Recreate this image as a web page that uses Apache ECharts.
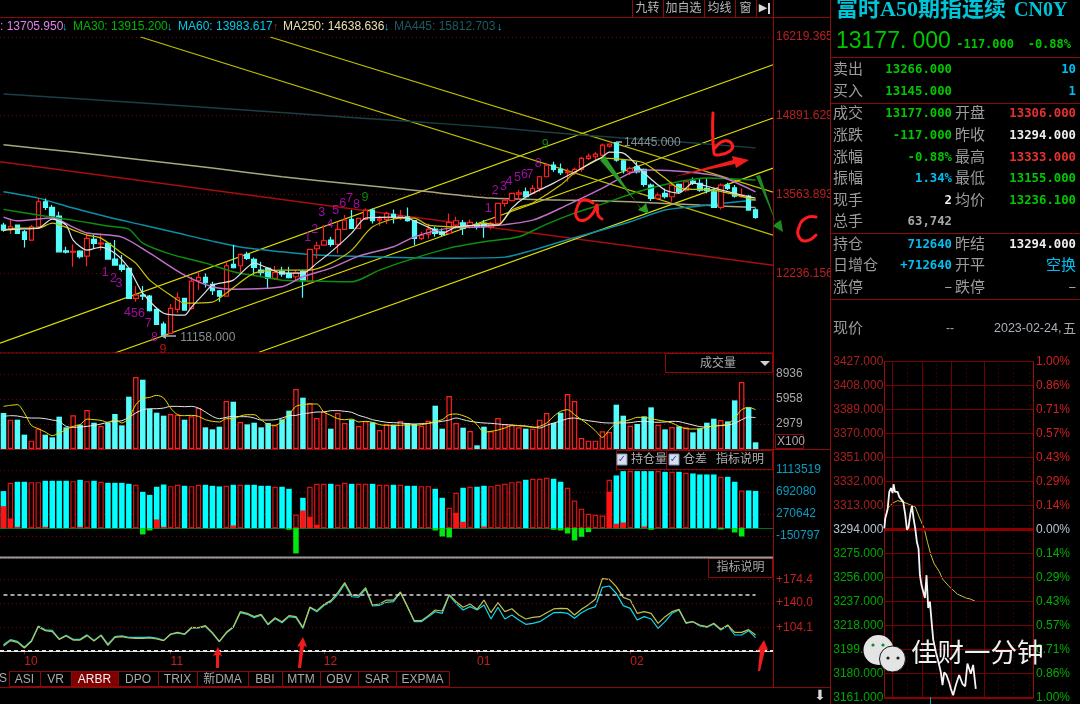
<!DOCTYPE html>
<html><head><meta charset="utf-8">
<style>html,body{margin:0;padding:0;background:#000}#c{width:1080px;height:704px}</style>
<script src="https://cdn.jsdelivr.net/npm/echarts@6/dist/echarts.min.js"></script>
</head><body><div id="c"></div>
<script>
const opens=[13048,12974,13048,12935,12795,13020,13442,13346,13200,12615,
12593,12609,12525,12806,12733,12739,12475,12374,12318,11812,
11868,11851,11626,11379,11222,11626,11812,11643,12110,12166,
12048,11941,11851,12385,12363,12554,12469,12290,12318,12149,
12262,12233,12177,12262,12093,12649,12711,12795,12722,12975,
13144,12992,13144,13301,13133,13144,13228,13177,13189,13122,
12823,12896,12981,12936,12908,13048,13088,13009,13060,13076,
13009,13076,13413,13459,13571,13610,13582,13666,13863,14060,
13987,13931,13931,13987,14172,14200,14229,14380,14437,14133,
13947,14032,13987,13722,13497,13582,13526,13734,13638,13790,
13751,13666,13610,13346,13722,13677,13526,13537,13306];
const closes=[12964,13020,12907,12806,13020,13442,13346,13200,12598,12593,
12604,12514,12823,12739,12744,12475,12374,12301,11812,11868,
11851,11604,11373,11194,11643,11823,11615,12104,12166,12076,
11941,11851,12363,12329,12554,12486,12335,12245,12149,12250,
12222,12160,12245,12110,12638,12700,12784,12722,12975,13133,
12992,13161,13301,13122,13155,13245,13177,13206,13122,12823,
12879,12981,12908,12891,13093,13121,12992,13093,13020,13020,
13076,13413,13470,13582,13593,13526,13666,13863,14060,13987,
13931,13947,13987,14172,14212,14245,14397,14414,14144,13975,
14004,13947,13734,13497,13554,13526,13722,13610,13779,13751,
13638,13627,13346,13722,13666,13537,13554,13301,13177];
const lows=[12935,12896,12896,12671,12784,12992,13301,13189,12587,12570,
12345,12486,12356,12654,12626,12464,12363,12261,11801,11756,
11784,11593,11362,11158,11211,11570,11604,11626,11953,11997,
11868,11756,11840,12318,12245,12458,12205,12194,11981,12121,
12177,12149,12110,11823,12082,12486,12706,12683,12571,12964,
12981,12981,13133,13077,13031,13065,13077,13133,13105,12711,
12795,12823,12852,12863,12897,12992,12880,12992,12975,12835,
12975,13065,13357,13448,13470,13498,13571,13610,13852,13947,
13891,13779,13891,13947,14144,14144,14172,14358,14116,13919,
13891,13919,13694,13453,13469,13497,13441,13571,13610,13722,
13610,13582,13335,13312,13638,13515,13515,13290,13155];
const highs=[13087,13144,13059,12964,13048,13509,13498,13385,13273,12682,
12727,12626,12908,12891,12908,12750,12795,12542,12329,12020,
12020,11868,11643,11418,11716,11913,11823,12177,12262,12233,
12093,11952,12430,12711,12571,12599,12503,12430,12329,12357,
12346,12346,12290,12290,12649,12767,13048,12852,13105,13217,
13301,13172,13329,13329,13200,13273,13312,13301,13346,13133,
12936,13076,13020,12992,13245,13189,13133,13144,13105,13133,
13105,13425,13498,13594,13638,13683,13722,13874,14088,14116,
14088,14004,14021,14200,14257,14285,14425,14420,14445,14144,
14032,14116,14004,13751,13593,13666,13779,13751,13807,13852,
13835,13835,13666,13751,13762,13722,13666,13554,13333];
const volumes=[4288,3494,3494,1707,993,2422,1707,1390,3851,2580,
4010,2898,4645,3136,2739,3097,4169,2819,6233,8575,
8258,4764,4327,3970,4169,4089,3494,3891,4883,2581,
2342,2660,5717,5637,3216,2938,3136,2581,3097,2819,
3533,4566,7146,6114,5479,3692,4486,2422,4288,3097,
3494,2739,3295,3176,2263,2978,2898,3335,3097,2978,
2779,3374,5161,2422,6312,3097,2541,2144,437,2660,
2104,3692,2978,2898,2581,2422,2422,3494,4288,3097,
4327,6550,5717,1310,993,993,2104,2025,5280,3970,
2779,2978,3891,4963,2898,2342,2620,2700,2581,1985,
2422,3136,3613,3454,3295,5796,7980,4963,794];
const volMa10=[3890,3970,3930,3770,3690,3690,3610,3450,3300,2700,
2580,2620,2700,2820,2980,3180,3300,3370,3770,4290,
4680,4800,4800,4880,5080,5080,5040,5080,4880,4410,
3890,3610,3770,3890,3850,3850,3690,3450,3450,3490,
3690,3970,4010,4210,4290,4410,4410,4570,4570,4490,
4370,4010,3770,3490,3330,3180,3140,3100,3020,2980,
3020,3060,3180,3300,3450,3690,3490,3300,3180,3100,
3060,2980,2900,2860,2780,2740,2620,2500,2820,3100,
3330,3610,3690,3530,3370,3260,3140,3100,3100,3100,
3140,3260,3300,3220,3180,3220,3300,3260,3060,2860,
2660,2620,2740,2780,2860,3060,3490,3810,3730];
const volMa5=[5080,5200,5280,4290,2820,2420,2020,1590,1910,2300,
2700,2900,3570,3490,3410,3180,3490,3100,3690,5280,
5990,6150,6390,6070,4880,4090,3970,4010,3890,3490,
3300,3220,3610,3610,3930,4090,4090,3490,2900,2820,
3300,4090,5080,5280,5360,5360,4410,4010,3610,3490,
3570,3220,3300,3180,2900,2820,2820,2820,2900,2820,
2900,3060,3300,3490,4090,4170,3970,3610,2900,2020,
2100,2260,2500,2780,2780,2700,2580,2700,3100,3890,
4490,4680,4090,3490,2900,2180,1390,2300,3100,3300,
3490,3770,3770,3610,3450,3300,3100,2700,2420,2380,
2420,2580,2740,2820,2980,3690,4680,4960,4680];
const openInterest=[709000,868000,888000,888000,881000,881000,907000,907000,907000,907000,
900000,926000,900000,907000,888000,868000,868000,868000,849000,830000,
696000,638000,792000,836000,804000,830000,811000,804000,830000,830000,
811000,798000,811000,830000,830000,830000,830000,811000,811000,792000,
792000,753000,262000,581000,792000,849000,849000,849000,830000,868000,
849000,849000,849000,849000,830000,830000,830000,830000,811000,811000,
804000,804000,753000,581000,389000,677000,773000,792000,792000,811000,
804000,830000,849000,881000,894000,926000,945000,945000,964000,945000,
888000,773000,530000,370000,275000,255000,243000,926000,1009000,1092000,
1092000,1092000,1092000,1092000,1092000,1079000,1079000,1079000,1060000,1047000,
1028000,1028000,1028000,983000,983000,888000,722000,722000,712640];
const positionDiff=[421000,185000,25000,0,0,0,26000,0,0,0,
0,26000,0,0,0,0,0,0,0,0,
-121000,-45000,166000,26000,0,0,0,0,0,0,
0,0,0,51000,0,0,0,0,0,0,
0,-32000,-485000,338000,217000,64000,0,0,0,0,
0,0,0,0,0,0,0,0,0,0,
0,0,-45000,-160000,-179000,294000,121000,0,0,32000,
0,0,0,0,0,0,0,0,0,-32000,
-45000,-102000,-236000,-166000,-77000,0,0,696000,83000,108000,
0,0,32000,-32000,0,0,0,0,0,0,
0,0,0,-26000,0,-83000,-160000,0,0];
const arbrYellow=[77.3,85.1,82.7,74.4,83.6,105.4,99.6,98.2,87.0,91.9,
86.0,86.0,92.4,84.6,92.4,78.3,89.9,90.9,89.0,88.5,
88.5,89.0,87.5,85.1,94.8,97.2,94.8,104.5,104.0,106.9,
96.7,84.1,97.2,105.4,127.3,124.9,120.0,123.4,109.3,118.5,
112.7,121.5,120.0,104.5,134.1,128.7,137.9,143.3,154.9,169.5,
151.5,151.0,162.2,137.0,138.4,144.2,144.2,155.9,134.6,114.2,
114.2,121.5,129.7,128.2,152.0,141.8,133.6,138.4,130.7,144.2,
125.8,140.4,127.3,131.6,122.4,116.6,119.0,120.0,125.8,131.2,
132.1,131.6,122.4,130.7,137.5,145.2,175.3,174.3,163.6,148.1,
144.2,124.9,127.3,124.9,110.3,120.0,127.3,130.7,111.3,112.7,
107.9,105.4,110.3,101.6,107.9,97.2,97.2,101.1,93.3];
const arbrCyan=[79,86.5,84,75.5,85,106.4,100.8,100,87.5,93,
87,87,93.5,85.5,93.5,80,91,92,90,90,
90,90.2,88.7,85.5,94,96.5,94,103.5,103.5,105.5,
95.8,83.5,96,104.2,125.8,123.4,118.5,122,108,117,
111.2,120,118.5,103,133,127,136.2,141.5,152,167.5,
149,148.5,160,135.5,136.5,140.9,141.8,154.9,134.6,112.7,
112.7,120,127.3,124.9,151,139.4,129.7,134.6,129.7,137,
116.6,133.6,116.6,122.4,115.2,108.8,110.3,112.7,119,125.8,
126.3,124.9,117.6,125.8,131.2,134.6,162.7,164.6,153.9,136,
132.1,115.2,120,116.6,103,112.7,124.9,129.7,110.3,112.7,
106.4,104.5,109.3,100.6,106.9,93.3,93.3,99.6,89.4];
// moving averages read at bar indices
const ma5Idx=[0,2,5,7,9,10,12,14,16,18,20,23,26,27,29,30,33,36,38,40,43,45,47,50,52,56,58,61,63,65,69,71,73,75,79,82,86,87,89,92,95,97,99,102,106,108];
const ma5Val=[12964,12980,12997,13149,13048,12795,12626,12677,12575,12322,11901,11563,11530,11665,11918,12036,12120,12407,12322,12238,12238,12407,12592,12913,13166,13183,13166,13014,12913,13014,13048,13048,13335,13520,13756,13942,14195,14279,14262,13925,13638,13588,13756,13672,13554,13503];
const ma10Idx=[0,2,5,7,10,12,14,17,19,21,24,26,30,32,36,40,44,47,50,53,57,59,61,66,69,71,73,75,76,80,82,86,90,92,95,97,102,108];
const ma10Val=[12964,12997,12997,13081,12964,12879,12828,12575,12407,12120,11867,11732,11749,11901,12238,12289,12289,12407,12626,13019,13166,13166,13048,13019,13081,13048,13301,13385,13419,13723,13925,14178,14144,14094,13841,13672,13638,13470];
const ma20Idx=[0,2,7,10,12,17,21,26,30,33,40,43,47,51,56,59,64,69,76,81,86,90,93,98,103,108];
const ma20Val=[13183,13120,13166,13014,12913,12845,12575,12204,12007,11968,12007,12176,12322,12525,12682,12850,12997,13019,13132,13390,13672,13925,13976,13947,13863,13609];
const ma30Idx=[0,5,10,15,18,20,24,29,33,37,40,46,50,54,59,64,69,74,78,82,86,91,96,101,105,108];
const ma30Val=[13313,13217,13132,13031,12980,12744,12559,12407,12260,12176,12120,12103,12091,12289,12491,12660,12766,12850,13065,13250,13402,13605,13756,13841,13824,13807];
const ma60Idx=[0,5,10,15,20,25,30,35,40,45,55,65,72,76,80,85,90,95,100,104,108];
const ma60Val=[13609,13503,13335,13183,13048,12913,12778,12660,12597,12542,12508,12491,12508,12626,12766,12935,13104,13301,13369,13424,13470];
const ma250Idx=[0,10,20,30,40,50,60,70,80,90,100,108];
const ma250Val=[14402,14279,14144,14009,13863,13740,13621,13503,13470,13441,13385,13346];
const ma445Idx=[0,21,43,57,71,83,95,108];
const ma445Val=[15257,15100,14920,14808,14690,14566,14470,14350];
// trend lines: [bar index, price] at each end
const redLine=[[-0.5,14117],[110.5,12373]];
const upLine1=[[-0.5,11057],[110.5,15752]];
const upLine2=[[15.9,10888],[110.5,14853]];
const upLine3=[[36.7,10905],[110.5,14009]];
const downLine1=[[19.7,16219],[110.5,12879]];
const downLine2=[[38.3,16219],[110.5,13605]];
// TD sequence labels
const tdIdx=[14.6,15.8,16.6,17.8,18.8,19.8,20.8,21.7,22.9,43.7,44.7,45.7,46.9,47.7,48.7,49.7,50.7,51.9,69.6,70.6,71.8,72.6,73.8,74.8,75.6,76.8,77.8];
const tdPrice=[12255,12154,12069,11580,11563,11563,11395,11158,10956,12845,12980,13267,13065,13301,13419,13503,13402,13520,13335,13638,13706,13790,13858,13908,13908,14094,14414];
const tdText=['1','2','3','4','5','6','7','8','9','1','2','3','4','5','6','7','8','9','1','2','3','4','5','6','7','8','9'];
// axis labels
const mainTicks=['','12236.156','13563.893','14891.629','16219.365'];
const volTicks=['','2979','5958','8936'];
const oiTicks=['','-150797','270642','692080','1113519'];
const arbrTickVals=[104.1,140.0,174.4];
const arbrGuards=[70,151.5];
const monthAt=[3,24,46,68,90];
const monthLabels=['10','11','12','01','02'];
// intraday
const minTime=[0,1,3.3,5,6.7,8.3,9.3,10.7,13.3,15,16.7,19,21,22.7,24.3,26,27.7,29.3,31,32.7,34.3,35.7,37.3,39,40.7,42.3,44,45.7,47.3,49,51.7,54.3,56.7,58.3,60,62.3,65,66.7,69,71.7,75,78.3,81,83.3,86.7,89,91.7];
const minPrice=[3295,3303,3310,3324,3327,3323,3330,3324,3324,3320,3321,3316,3306,3294,3296,3306,3313,3303,3295,3284,3279,3258,3250,3249,3240,3258,3232,3237,3222,3207,3197,3189,3181,3171,3181,3179,3173,3168,3163,3171,3179,3172,3170,3188,3180,3187,3168];
const avgTime=[0,3.3,8.3,13.3,19,25,31,35,40,43.3,46.7,50,55,58.3,65,73.3,81.7,86.7,91.7];
const avgPrice=[3300,3311,3315,3317,3316,3314,3312,3304,3295,3284,3274,3267,3261,3255,3249,3243,3240,3239,3237];
const minLevels=[3161,3180,3199,3218,3237,3256,3275,3294,3313,3332,3351,3370,3389,3408,3427];
const minLeftTicks=['3161.000','3180.000','3199.000','3218.000','3237.000','3256.000','3275.000','3294.000','3313.000','3332.000','3351.000','3370.000','3389.000','3408.000','3427.000'];
const minRightTicks=['1.00%','0.86%','0.71%','0.57%','0.43%','0.29%','0.14%','0.00%','0.14%','0.29%','0.43%','0.57%','0.71%','0.86%','1.00%'];
const minSolidV=[8.3,37.7,67.3,99.7];
const minDotV=[22.7,52.3,81.7,114.3,129,145];

const categories=Array.from({length:111},(_,i)=>String(i));
const RED='#ff2020',CY='#54FCFC',GRID='#7a0000',LINE='#8a0a0a';
const F='Arial,"Liberation Sans","Noto Sans CJK SC",sans-serif';
const isUp=i=>closes[i]>=opens[i];
const pairs=(a,b)=>a.map((v,i)=>[v,b[i]]);
const dot={lineStyle:{color:GRID,type:[1,3],width:1}};
const yLine=c=>({show:true,onZero:false,lineStyle:{color:c}});

function hide(grid){return {type:'category',gridIndex:grid,data:categories,show:false,boundaryGap:true};}
const L=-2.8,W=775.8;
const grids=[
 {left:L,top:37,width:W,height:315},
 {left:L,top:374,width:W,height:75},
 {left:L,top:470,width:W,height:88},
 {left:L,top:557,width:W,height:94.3},
 {left:884.3,top:361.7,width:148.7,height:336}
];
const xAxes=[
 hide(0),
 {type:'value',gridIndex:0,min:-0.5,max:110.5,show:false},
 {type:'category',gridIndex:1,data:categories,axisLine:{show:true,lineStyle:{color:'#b01010'}},axisTick:{show:false},axisLabel:{show:false}},
 {type:'category',gridIndex:2,data:categories,axisLine:{show:true,onZero:true,lineStyle:{color:'#0a6a1a'}},axisTick:{show:false},axisLabel:{show:false}},
 {type:'category',gridIndex:3,data:categories,axisLine:{show:true,lineStyle:{color:'#c8c8c8',width:1}},
  axisTick:{show:true,alignWithLabel:true,length:3,interval:i=>monthAt.includes(i),lineStyle:{color:'#a01010'}},
  axisLabel:{show:true,interval:i=>monthAt.includes(i),formatter:(v,i)=>monthLabels[monthAt.indexOf(+v)]||'',color:'#c02020',fontSize:12,fontFamily:F,align:'left',margin:4}},
 {type:'value',gridIndex:4,min:0,max:149,show:false}
];
const yAxes=[
 {type:'value',gridIndex:0,position:'right',min:10908.41,max:16219.365,interval:1327.739,axisLine:yLine('#900c0c'),axisTick:{show:false},splitLine:{show:true,...dot},
  axisLabel:{margin:3,color:'#b82020',fontSize:12,fontFamily:F,formatter:(v,i)=>mainTicks[i]||''}},
 {type:'value',gridIndex:1,position:'right',min:0,max:8936,interval:2978.667,axisLine:yLine('#900c0c'),axisTick:{show:false},splitLine:{show:true,...dot},
  axisLabel:{margin:3,color:'#a8a8a8',fontSize:12,fontFamily:F,formatter:(v,i)=>volTicks[i]||''}},
 {type:'value',gridIndex:2,position:'right',min:-572236,max:1113519,interval:421438.75,axisLine:yLine('#900c0c'),axisTick:{show:false},splitLine:{show:true,...dot},
  axisLabel:{margin:3,color:'#0a9cc0',fontSize:12,fontFamily:F,formatter:(v,i)=>oiTicks[i]||''}},
 {type:'value',gridIndex:3,position:'right',min:69.6,max:206.8,axisLine:yLine('#c8c8c8'),axisTick:{show:false},splitLine:{show:false},
  axisLabel:{margin:3,color:'#c02020',fontSize:12,fontFamily:F,customValues:arbrTickVals,formatter:v=>'+'+Number(v).toFixed(1)}},
 {type:'value',gridIndex:4,position:'left',min:3161,max:3427,interval:19,axisLine:yLine('#a00c0c'),axisTick:{show:false},splitLine:{show:false},
  axisLabel:{margin:1,fontSize:12,fontFamily:F,formatter:(v,i)=>minLeftTicks[i],color:v=>Math.abs(v-3294)<1?'#b8c4d0':(v>3294?'#a82020':'#00a800')}},
 {type:'value',gridIndex:4,position:'right',min:3161,max:3427,interval:19,axisLine:yLine('#a00c0c'),axisTick:{show:false},splitLine:{show:false},
  axisLabel:{margin:3,fontSize:12,fontFamily:F,formatter:(v,i)=>minRightTicks[i],color:v=>Math.abs(v-3294)<1?'#b8c4d0':(v>3294?'#d02020':'#00b000')}}
];
const ln=(name,data,color,w,z)=>({type:'line',name,xAxisIndex:1,yAxisIndex:0,data,showSymbol:false,symbol:'none',silent:true,z:z||4,clip:true,lineStyle:{color,width:w||1},animation:false});
const maLn=(name,idx,val,color,w,z)=>Object.assign(ln(name,pairs(idx,val),color,w,z),{smooth:0.25});
const volItems=volumes.map((v,i)=>({value:v,itemStyle:isUp(i)?{color:'#0a0000',borderColor:RED,borderWidth:1.2}:{color:CY,borderWidth:0}}));
const oiItems=openInterest.map((v,i)=>({value:v,itemStyle:isUp(i)?{color:'#0a0000',borderColor:'#d81414',borderWidth:1.2}:{color:'#00FFFF',borderWidth:0}}));
const diffItems=positionDiff.map(v=>({value:v===0?null:v,itemStyle:{color:v<0?'#00e810':'#ff1414'}}));
const tdData=tdIdx.map((k,i)=>{const c=i===8?'#e01818':(i===17||i===26)?'#10a810':'#c810c8';return {value:[k,tdPrice[i]],label:{show:true,formatter:tdText[i],color:c,fontSize:12.5,fontFamily:F,position:'inside'}};});
const series=[
 {type:'candlestick',name:'K',xAxisIndex:0,yAxisIndex:0,barWidth:5,z:3,animation:false,silent:true,
  data:opens.map((o,i)=>[o,closes[i],lows[i],highs[i]]),
  itemStyle:{color:'#000',color0:CY,borderColor:'#ff2020',borderColor0:CY,borderWidth:1.2}},
 ln('redLine',redLine,'#a80c0c',1.5,2),
 ln('up1',upLine1,'#dede00',1.2,2),ln('up2',upLine2,'#dede00',1.2,2),ln('up3',upLine3,'#dede00',1.2,2),
 ln('down1',downLine1,'#bebe00',1.2,2),ln('down2',downLine2,'#bebe00',1.2,2),
 maLn('MA445',ma445Idx,ma445Val,'#1a3e44',1.5,2),
 maLn('MA250',ma250Idx,ma250Val,'#a8a67c',1.5,2),
 maLn('MA60',ma60Idx,ma60Val,'#0a8fa8',1.5,2),
 maLn('MA30',ma30Idx,ma30Val,'#0a900a',1.5,4),
 maLn('MA20',ma20Idx,ma20Val,'#c070c8',1.5,4),
 maLn('MA10',ma10Idx,ma10Val,'#c8c400',1.2,4),
 maLn('MA5',ma5Idx,ma5Val,'#e0e0e0',1.2,5),
 {type:'scatter',xAxisIndex:1,yAxisIndex:0,symbolSize:0,data:tdData,z:6,silent:true,animation:false},
 {type:'scatter',xAxisIndex:1,yAxisIndex:0,symbolSize:0,z:6,silent:true,animation:false,
  data:[{value:[89.1,14445],label:{show:true,position:'right',distance:0,formatter:'14445.000',color:'#a8b0b8',fontSize:12,fontFamily:F}},
        {value:[25.4,11158],label:{show:true,position:'right',distance:0,formatter:'11158.000',color:'#a8b0b8',fontSize:12,fontFamily:F}}]},
 {type:'bar',xAxisIndex:2,yAxisIndex:1,data:volItems,barWidth:5.5,z:2,animation:false,silent:true},
 {type:'line',xAxisIndex:2,yAxisIndex:1,data:volMa10,symbol:'none',smooth:0.3,lineStyle:{color:'#e8e8e8',width:1},z:4,animation:false,silent:true},
 {type:'line',xAxisIndex:2,yAxisIndex:1,data:volMa5,symbol:'none',smooth:0.3,lineStyle:{color:'#e8e000',width:1},z:4,animation:false,silent:true},
 {type:'bar',xAxisIndex:3,yAxisIndex:2,data:oiItems,barWidth:5.5,barGap:'-100%',z:2,animation:false,silent:true},
 {type:'bar',xAxisIndex:3,yAxisIndex:2,data:diffItems,barWidth:5.5,barGap:'-100%',z:3,animation:false,silent:true},
 {type:'line',xAxisIndex:4,yAxisIndex:3,data:arbrCyan,symbol:'none',lineStyle:{color:'#10d8e8',width:1.2},z:3,animation:false,silent:true,
  markLine:{silent:true,symbol:'none',animation:false,label:{show:false},precision:4,data:[
   ...arbrTickVals.map(v=>({yAxis:v,lineStyle:{color:GRID,type:[1,3],width:1}})),
   [{coord:['0',arbrGuards[1]],lineStyle:{color:'#d8d8d8',type:[4,3],width:1.5}},{coord:['108',arbrGuards[1]]}],
   {yAxis:arbrGuards[0],lineStyle:{color:'#e8e8e8',type:[4,3],width:2}}
  ]}},
 {type:'line',xAxisIndex:4,yAxisIndex:3,data:arbrYellow,symbol:'none',lineStyle:{color:'#c0c050',width:1.2},z:4,animation:false,silent:true},
 {type:'line',xAxisIndex:5,yAxisIndex:4,data:pairs(avgTime,avgPrice),symbol:'none',lineStyle:{color:'#c8c040',width:1},z:4,animation:false,silent:true},
 {type:'line',xAxisIndex:5,yAxisIndex:4,data:pairs(minTime,minPrice),symbol:'none',lineStyle:{color:'#f4f4f4',width:1.8},z:5,animation:false,silent:true,
  markLine:{silent:true,symbol:'none',animation:false,label:{show:false},data:[
   ...minLevels.map(v=>({yAxis:v,lineStyle:{color:'#720000',type:'solid',width:1}})),
   ...minSolidV.map(v=>({xAxis:v,lineStyle:{color:'#720000',type:'solid',width:1}})),
   ...minDotV.map(v=>({xAxis:v,lineStyle:{color:'#720000',type:[1,3],width:1}})),
   {yAxis:3294,lineStyle:{color:'#8c0000',type:'solid',width:3}},
   {yAxis:3161,lineStyle:{color:'#8c0000',type:'solid',width:2}}
  ]}}
];

// ---- panel furniture and text ----
const G=[];
const T=(x,y,text,fill,size,align,font,weight)=>G.push({type:'text',z:70,silent:true,style:{x,y,text,fill,
  font:(weight?weight+' ':'')+size+'px '+(font||F),textAlign:align||'left',align:align||'left',textVerticalAlign:'middle',verticalAlign:'middle'}});
const HL=(x1,y1,x2,y2,c,w)=>G.push({type:'line',z:65,silent:true,shape:{x1,y1,x2,y2},style:{stroke:c||LINE,lineWidth:w||1}});
const R=(x,y,w,h,fill,stroke,z)=>G.push({type:'rect',z:z||64,silent:true,shape:{x,y,width:w,height:h},style:{fill:fill||'none',stroke:stroke||'none',lineWidth:1}});
const P=(pts,c,w,sm)=>G.push({type:'polyline',z:68,silent:true,shape:{points:pts,smooth:sm===undefined?0.5:sm},style:{stroke:c,lineWidth:w,fill:'none',lineCap:'round',lineJoin:'round'}});
const PG=(pts,c)=>G.push({type:'polygon',z:68,silent:true,shape:{points:pts},style:{fill:c}});

R(830,0,250,353,'#000',null,60);
HL(0,17.5,830,17.5);HL(0,353,773,353);HL(773.5,0,773.5,687,'#900c0c');HL(830.5,0,830.5,704,'#900c0c');
HL(0,687.5,830,687.5);HL(0,557.5,773,557.5,'#9a9a9a',2);HL(0,449.5,830,449.5,'#900c0c');
// toolbar
[632,663,704,735,756].forEach(x=>HL(x+.5,0,x+.5,17));
T(647.5,8.5,'九转','#b8b8b8',12,'center');T(683.5,8.5,'加自选','#b8b8b8',12,'center');T(719.5,8.5,'均线','#b8b8b8',12,'center');T(745.5,8.5,'窗','#b8b8b8',12,'center');
T(763,8.5,'▶','#d8d8d8',11,'center','"DejaVu Sans"');HL(769,3,769,14,'#d8d8d8',2);
// legend
T(0,27,': 13705.950','#e080f0',12);T(62,27,'↓','#00b8e0',11);
T(73,27,'MA30: 13915.200','#00b400',12);T(167,27,'↓','#00b8e0',11);
T(178,27,'MA60: 13983.617','#00c8e8',12);T(273,27,'↑','#e01818',11);
T(283,27,'MA250: 14638.636','#e8e0b0',12);T(384,27,'↓','#00b8e0',11);
T(394,27,'MA445: 15812.703','#1f5a62',12);T(497,27,'↓','#00b8e0',11);
// volume box
R(665.5,353.5,107,19,'#000',LINE);T(718,364,'成交量','#a8a8a8',12,'center');PG([[760,361],[770,361],[765,366]],'#d0d0d0');
R(775.5,434.5,28,14,'none',LINE);T(777,442,'X100','#a8a8a8',12);
// OI box
R(616.5,450.5,156,19,'#000',LINE);HL(666.5,450,666.5,469);
R(617,454,10,11,'#d8e0f0','#8090b0',65);T(622,459.5,'✓','#3050b0',10,'center','"DejaVu Sans"');
T(631,460,'持仓量','#b0b0b0',12);
R(669,454,10,11,'#d8e0f0','#8090b0',65);T(674,459.5,'✓','#3050b0',10,'center','"DejaVu Sans"');
T(683,460,'仓差','#b0b0b0',12);T(716,460,'指标说明','#b0b0b0',12);
// ARBR box
R(708.5,558.5,64,19,'#000',LINE);T(740.5,568,'指标说明','#a8a8a8',12,'center');
// tabs
T(3,679,'S','#a8a8a8',12,'center');
const tabs=[['ASI',9,40],['VR',40,71],['ARBR',71,118],['DPO',118,158],['TRIX',158,197],['新DMA',197,248],['BBI',248,282],['MTM',282,320],['OBV',320,358],['SAR',358,396],['EXPMA',396,449]];
tabs.forEach(([t,a,b])=>{R(a+.5,671.5,b-a,15,t==='ARBR'?'#800000':'#000',LINE);T((a+b)/2,679.5,t,t==='ARBR'?'#f0f0f0':'#a8a8a8',12,'center');});
T(820,696,'⬇','#d8d8d8',14,'center','"DejaVu Sans"');
// right panel
const S='"Liberation Serif","Noto Sans CJK SC",serif';
T(836,10.5,'富时A50期指连续','#00c4d8',22,'left',S,'bold');T(1014,10.5,'CN0Y','#00c4d8',20,'left',S,'bold');
const M='"DejaVu Sans Mono",monospace';
T(836,42,'13177.','#00c800',23);T(912.5,42,'000','#00c800',23);
T(1014,44.5,'-117.000','#00c800',12,'right',M,'bold');T(1071,44.5,'-0.88%','#00c800',12,'right',M,'bold');
[57,103,233,299].forEach(y=>HL(831,y+.5,1080,y+.5));
const LB='#9c9c9c',VS=12.3;
const Lb=(x,y,t)=>T(x,y,t,LB,15,'left');
const Vv=(x,y,t,c)=>T(x,y,t,c,VS,'right',M,'bold');
const GR='#00c800',RD='#e83030',WH='#f0f0f0',BL='#00c0f0';
Lb(833,70,'卖出');Vv(952,70,'13266.000',GR);Vv(1076,70,'10',BL);
Lb(833,92,'买入');Vv(952,92,'13145.000',GR);Vv(1076,92,'1',BL);
Lb(833,114,'成交');Vv(952,114,'13177.000',GR);Lb(955,114,'开盘');Vv(1076,114,'13306.000',RD);
Lb(833,136,'涨跌');Vv(952,136,'-117.000',GR);Lb(955,136,'昨收');Vv(1076,136,'13294.000',WH);
Lb(833,158,'涨幅');Vv(952,158,'-0.88%',GR);Lb(955,158,'最高');Vv(1076,158,'13333.000',RD);
Lb(833,179,'振幅');Vv(952,179,'1.34%',BL);Lb(955,179,'最低');Vv(1076,179,'13155.000',GR);
Lb(833,201,'现手');Vv(952,201,'2',WH);Lb(955,201,'均价');Vv(1076,201,'13236.100',GR);
Lb(833,222,'总手');Vv(952,222,'63,742','#a8a8a8');
Lb(833,245,'持仓');Vv(952,245,'712640',BL);Lb(955,245,'昨结');Vv(1076,245,'13294.000',WH);
Lb(833,266,'日增仓');Vv(952,266,'+712640',BL);Lb(955,266,'开平');T(1076,266,'空换',BL,15,'right');
Lb(833,288,'涨停');T(952,288,'−','#b0b0b0',13,'right');Lb(955,288,'跌停');T(1076,288,'−','#b0b0b0',13,'right');
Lb(833,329,'现价');T(954,329,'--','#a8a8a8',12,'right');T(994,329,'2023-02-24,','#a8b0b8',12.5);T(1076,329,'五','#a8a8a8',13,'right');
HL(930.5,697,930.5,704,'#10a8b8',1);
// watermark
G.push({type:'circle',z:72,silent:true,shape:{cx:878.5,cy:650,r:15},style:{fill:'#e4e4e4'}});
G.push({type:'circle',z:73,silent:true,shape:{cx:892.5,cy:659,r:13},style:{fill:'#e4e4e4',stroke:'#181818',lineWidth:1}});
[[873,645,'#0a8a2a'],[883,645,'#0a8a2a'],[888,658,'#222'],[898,658,'#222']].forEach(([cx,cy,c])=>G.push({type:'circle',z:74,silent:true,shape:{cx,cy,r:1.6},style:{fill:c}}));
T(911,655,'佳财一分钟','#f0f0f0',26.5);
// small price arrows
HL(616,142,622,142,'#a8b0b8',1.5);HL(163,336,176,336,'#a8b0b8',1.5);PG([[161,336],[166,333],[166,339]],'#a8b0b8');
// hand annotations
P([[593,203],[583,200],[577,208],[577,218],[585,220],[593,213],[597,205],[598,215],[602,219]],'#ff1c1c',3);
P([[713,113],[714,153],[718,155],[730,151],[732,144],[724,141],[715,148]],'#ff1c1c',3);
P([[816,217],[806,218],[799,227],[799,237],[806,241],[816,235]],'#ff1c1c',3);
PG([[673,177],[733,160],[732,156],[749,160],[736,168],[735,164]],'#f01c1c');
PG([[600,160],[641,208],[646,203],[649,214],[638,210],[640,208],[605,156]],'#2a9a28');
PG([[756,176],[776,223],[781,220],[783,232],[773,226],[776,223],[760,175]],'#1f8a1f');
PG([[216,668],[216,655],[213,656],[218,647],[222,656],[219,655],[219,668]],'#f01c1c');
PG([[298,668],[300,646],[297,647],[303,637],[307,647],[304,646],[301,668]],'#f01c1c');
PG([[758,671],[760,650],[757,651],[764,640],[768,650],[765,650],[760,671]],'#f01c1c');

const chart=echarts.init(document.getElementById('c'),null,{width:1080,height:704,renderer:'canvas'});
chart.setOption({backgroundColor:'#000',animation:false,grid:grids,xAxis:xAxes,yAxis:yAxes,series,graphic:{elements:G},tooltip:{show:false},legend:{show:false}});
</script></body></html>
